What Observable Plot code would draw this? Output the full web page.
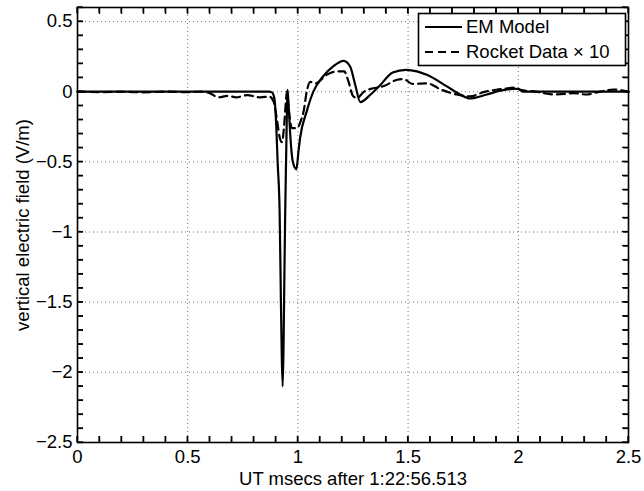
<!DOCTYPE html>
<html><head><meta charset="utf-8">
<script src="https://cdn.jsdelivr.net/npm/d3@7"></script>
<script src="https://cdn.jsdelivr.net/npm/@observablehq/plot@0.6"></script>
<style>
body{margin:0;background:#fff;}
#wrap{position:relative;width:644px;height:491px;}
</style></head><body><div id="wrap"></div>
<script>
// EM Model (solid)
const emX = [0,0.6,0.87,0.882,0.893,0.902,0.908,0.917,0.923,0.927,0.931,0.935,0.938,0.942,0.947,0.95,0.953,0.958,0.965,0.977,0.993,1.003,1.01,1.04,1.07,1.115,1.16,1.207,1.237,1.26,1.283,1.33,1.37,1.43,1.49,1.54,1.585,1.676,1.736,1.78,1.857,1.918,1.977,2.0,2.02,2.5];
const emY = [0,0,0,-0.005,-0.045,-0.25,-0.5,-0.85,-1.5,-1.9,-2.1,-1.8,-1.4,-0.9,-0.43,-0.15,0.014,-0.1,-0.3,-0.5,-0.553,-0.42,-0.33,-0.14,0,0.11,0.18,0.22,0.18,0.05,-0.074,-0.02,0.04,0.137,0.156,0.145,0.12,0.038,-0.02,-0.048,-0.02,0.007,0.02,0.02,0,0];
// Rocket Data x 10 (dashed)
const rkX = [0,0.1,0.2,0.3,0.4,0.5,0.56,0.6,0.64,0.68,0.72,0.77,0.83,0.87,0.89,0.905,0.918,0.928,0.937,0.945,0.95,0.958,0.973,0.995,1.015,1.026,1.04,1.056,1.08,1.13,1.18,1.21,1.23,1.25,1.268,1.3,1.33,1.39,1.45,1.48,1.52,1.585,1.65,1.72,1.78,1.85,1.9,1.96,1.98,2.01,2.08,2.16,2.22,2.25,2.31,2.37,2.43,2.5];
const rkY = [0,-0.003,0,-0.005,0,-0.003,0,-0.01,-0.04,-0.03,-0.04,-0.025,-0.04,-0.035,-0.07,-0.2,-0.33,-0.36,-0.25,-0.08,0,-0.12,-0.26,-0.26,-0.2,-0.14,0,0.07,0.06,0.12,0.145,0.145,0.07,-0.03,-0.045,0,0.02,0.04,0.085,0.09,0.055,0.06,0.015,-0.02,-0.033,0,0.014,0.025,0.03,0.014,0,-0.02,-0.015,-0.01,-0.02,0,0.015,0];

const xMajor = [0,0.5,1,1.5,2,2.5];
const yMajor = [-2.5,-2,-1.5,-1,-0.5,0,0.5];
const xMinor = [0,0.1,0.2,0.3,0.4,0.5,0.6,0.7,0.8,0.9,1,1.1,1.2,1.3,1.4,1.5,1.6,1.7,1.8,1.9,2,2.1,2.2,2.3,2.4,2.5];
const yMinor = [-2.5,-2.4,-2.3,-2.2,-2.1,-2,-1.9,-1.8,-1.7,-1.6,-1.5,-1.4,-1.3,-1.2,-1.1,-1,-0.9,-0.8,-0.7,-0.6,-0.5,-0.4,-0.3,-0.2,-0.1,0,0.1,0.2,0.3,0.4,0.5,0.6];
const legendLabels = ["EM Model","Rocket Data \u00d7 10"];

const em = emX.map((x,i)=>({x, y: emY[i]}));
const rk = rkX.map((x,i)=>({x, y: rkY[i]}));

const W=644,H=491,mL=77,mR=16,mT=7,mB=49;
const tk=6;
const xD=[0,2.5], yD=[-2.5,0.6];
const font='"Liberation Sans", Arial, Helvetica, sans-serif';
const fmt = d3.format("~g");
const blank = () => "";

const chart = Plot.plot({
  width:W, height:H, marginLeft:mL, marginRight:mR, marginTop:mT, marginBottom:mB,
  style:{fontFamily:font, fontSize:"18.5px", color:"#000", background:"#fff"},
  x:{domain:xD},
  y:{domain:yD},
  marks:[
    Plot.gridX(xMajor,{stroke:"#000", strokeOpacity:0.55, strokeDasharray:"1,3", strokeWidth:1}),
    Plot.gridY(yMajor,{stroke:"#000", strokeOpacity:0.55, strokeDasharray:"1,3", strokeWidth:1}),
    Plot.line(rk,{x:"x", y:"y", stroke:"#000", strokeWidth:2.2, strokeDasharray:"8,5", curve:"monotone-x"}),
    Plot.line(em,{x:"x", y:"y", stroke:"#000", strokeWidth:2.2, curve:"monotone-x"}),
    // inward minor ticks drawn by Plot axis marks (negative tick size points inside the frame)
    Plot.axisX(xMinor,{anchor:"bottom", tickSize:-tk, tickFormat:blank, label:null, stroke:"#000", strokeWidth:1.3, strokeOpacity:1}),
    Plot.axisX(xMinor,{anchor:"top", tickSize:-tk, tickFormat:blank, label:null, stroke:"#000", strokeWidth:1.3, strokeOpacity:1}),
    Plot.axisY(yMinor,{anchor:"left", tickSize:-tk, tickFormat:blank, label:null, stroke:"#000", strokeWidth:1.3, strokeOpacity:1}),
    Plot.axisY(yMinor,{anchor:"right", tickSize:-tk, tickFormat:blank, label:null, stroke:"#000", strokeWidth:1.3, strokeOpacity:1}),
    Plot.frame({stroke:"#000", strokeWidth:1.6}),
    Plot.axisX(xMajor,{tickSize:0, tickPadding:7, tickFormat:fmt, label:"UT msecs after 1:22:56.513", labelAnchor:"center", labelArrow:"none", labelOffset:42}),
    Plot.axisY(yMajor,{tickSize:0, tickPadding:5, tickFormat:fmt, label:"vertical electric field (V/m)", labelAnchor:"center", labelArrow:"none", labelOffset:62})
  ]
});
document.getElementById("wrap").appendChild(chart);

const svg = d3.select(chart);
// backup inward ticks, positioned with the plot's own scales
const sx = chart.scale("x"), sy = chart.scale("y");
const x0 = sx.apply(xD[0]), x1 = sx.apply(xD[1]), y0 = sy.apply(yD[0]), y1 = sy.apply(yD[1]);
const tg = svg.append("g").attr("stroke","#000").attr("stroke-width",1.3);
xMinor.forEach(v=>{
  const px = sx.apply(v);
  tg.append("line").attr("x1",px).attr("x2",px).attr("y1",y1).attr("y2",y1+tk);
  tg.append("line").attr("x1",px).attr("x2",px).attr("y1",y0).attr("y2",y0-tk);
});
yMinor.forEach(v=>{
  const py = sy.apply(v);
  tg.append("line").attr("y1",py).attr("y2",py).attr("x1",x0).attr("x2",x0+tk);
  tg.append("line").attr("y1",py).attr("y2",py).attr("x1",x1).attr("x2",x1-tk);
});

// legend
const lg = svg.append("g");
lg.append("rect").attr("x",418.5).attr("y",13.5).attr("width",207).attr("height",52)
  .attr("fill","#fff").attr("stroke","#000").attr("stroke-width",1.6);
const rows=[{y:27,dash:null},{y:52,dash:"8,5"}];
rows.forEach((r,i)=>{
  lg.append("line").attr("x1",425).attr("x2",462).attr("y1",r.y).attr("y2",r.y)
    .attr("stroke","#000").attr("stroke-width",2.2).attr("stroke-dasharray",r.dash);
  lg.append("text").attr("x",466).attr("y",r.y).attr("dy","0.35em").attr("text-anchor","start")
    .attr("font-family",font).attr("font-size","18.5px").attr("fill","#000").text(legendLabels[i]);
});
</script></body></html>
